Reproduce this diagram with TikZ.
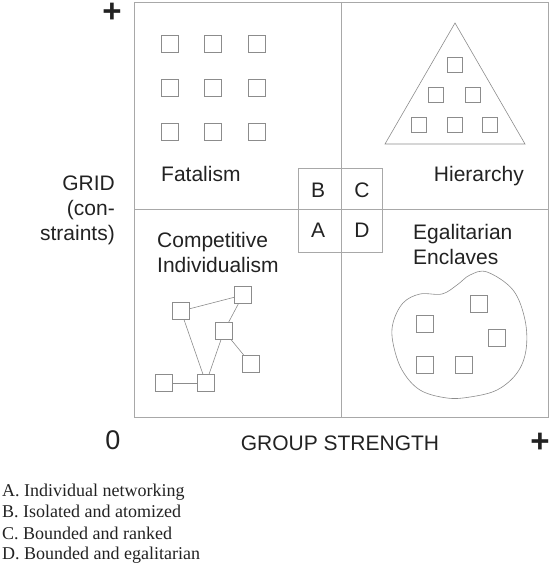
\documentclass[tikz,border=0pt]{standalone}
\usepackage{fontspec}
\setmainfont{Liberation Sans}
\newfontfamily\legendfont{Liberation Serif}
\usetikzlibrary{positioning}

\definecolor{inkgray}{HTML}{222222}
\definecolor{linegray}{HTML}{A8A8A8}
\definecolor{boxgray}{HTML}{8C8C8C}

\tikzset{
  sq/.style={draw=boxgray,line width=0.9pt,minimum size=17pt,inner sep=0pt},
  smallsq/.style={sq,minimum size=15pt},
  quadtext/.style={font=\fontsize{21}{25}\selectfont,text=inkgray,inner sep=0pt},
  signtext/.style={font=\fontsize{27}{30}\selectfont,text=inkgray,inner sep=0pt},
  plustext/.style={font=\fontsize{33}{34}\bfseries,text=inkgray,inner sep=0pt},
  legendtext/.style={font=\legendfont\fontsize{18}{21}\selectfont,text=inkgray,inner sep=0pt,anchor=base west},
  frame/.style={draw=linegray,line width=0.8pt},
  link/.style={draw=boxgray,line width=0.6pt}
}

\begin{document}
\begin{tikzpicture}[x=1pt,y=-1pt]
    \useasboundingbox (0,0) rectangle (550,564);
    % frame and quadrants
    \draw[frame] (134,2) rectangle (548,417);
    \draw[frame] (341,2) -- (341,417);
    \draw[frame] (134,209) -- (548,209);
    \draw[frame] (298,168) rectangle (382,252);

    % axis labels
    \node[plustext] (gridplus) at (112,13) {+};
    \node[quadtext,anchor=base east] (grid1) at (115,190) {GRID};
    \node[quadtext,anchor=base east] (grid2) at (115,215) {(con-};
    \node[quadtext,anchor=base east] (grid3) at (115,240) {straints)};
    \node[signtext] (zero) at (113,440) {0};
    \node[quadtext] (group) at (340,443) {GROUP STRENGTH};
    \node[plustext] (groupplus) at (540,443) {+};

    % cell letters
    \node[quadtext] (cellB) at (318,190) {B};
    \node[quadtext] (cellC) at (362,190) {C};
    \node[quadtext] (cellA) at (318,230) {A};
    \node[quadtext] (cellD) at (362,230) {D};

    % quadrant names
    \node[quadtext,anchor=base west] (fatal) at (161,182) {Fatalism};
    \node[quadtext,anchor=base east] (hier) at (524,182) {Hierarchy};
    \node[quadtext,anchor=base west] (comp1) at (157,247) {Competitive};
    \node[quadtext,anchor=base west] (comp2) at (157,272) {Individualism};
    \node[quadtext,anchor=base west] (egal1) at (413,239) {Egalitarian};
    \node[quadtext,anchor=base west] (egal2) at (413,264) {Enclaves};

    % fatalism: isolated squares
    \foreach \x [count=\i] in {170,213,257}
      \foreach \y [count=\j] in {44,88,132}
        \node[sq] (fat-\i-\j) at (\x,\y) {};

    % hierarchy: ranked squares in a triangle
    \draw[boxgray,line width=0.6pt] (455,23) -- (385,144) -- (525,144) -- cycle;
    \node[smallsq] (h1) at (455,65) {};
    \node[smallsq] (h2) at (436,95) {};
    \node[smallsq] (h3) at (473,95) {};
    \node[smallsq] (h4) at (419,125) {};
    \node[smallsq] (h5) at (455,125) {};
    \node[smallsq] (h6) at (490,125) {};

    % individualism: network
    \node[sq] (n1) at (181,311) {};
    \node[sq] (n2) at (243,295) {};
    \node[sq] (n3) at (224,331) {};
    \node[sq] (n4) at (251,364) {};
    \node[sq] (n5) at (164,383) {};
    \node[sq] (n6) at (206,383) {};
    \draw[link] (n1) -- (n2);
    \draw[link] (n2) -- (n3);
    \draw[link] (n3) -- (n4);
    \draw[link] (n3) -- (n6);
    \draw[link] (n1) -- (n6);
    \draw[link] (n5) -- (n6);

    % enclave: squares in a bounded blob
    \draw[boxgray,line width=0.6pt] plot[smooth cycle,tension=0.6] coordinates {
      (487,272) (513,290) (525,320) (526,350) (517,373) (497,390) (470,397)
      (447,398) (420,390) (402,370) (393,343) (393,323) (403,303) (420,294)
      (442,294) (457,285) (470,275)};
    \node[sq] (e1) at (425,324) {};
    \node[sq] (e2) at (479,304) {};
    \node[sq] (e3) at (497,338) {};
    \node[sq] (e4) at (425,365) {};
    \node[sq] (e5) at (464,365) {};

    % legend
    \node[legendtext] (legA) at (2,496) {A. Individual networking};
    \node[legendtext] (legB) at (2,517.5) {B. Isolated and atomized};
    \node[legendtext] (legC) at (2,539) {C. Bounded and ranked};
    \node[legendtext] (legD) at (2,559) {D. Bounded and egalitarian};
\end{tikzpicture}
\end{document}
